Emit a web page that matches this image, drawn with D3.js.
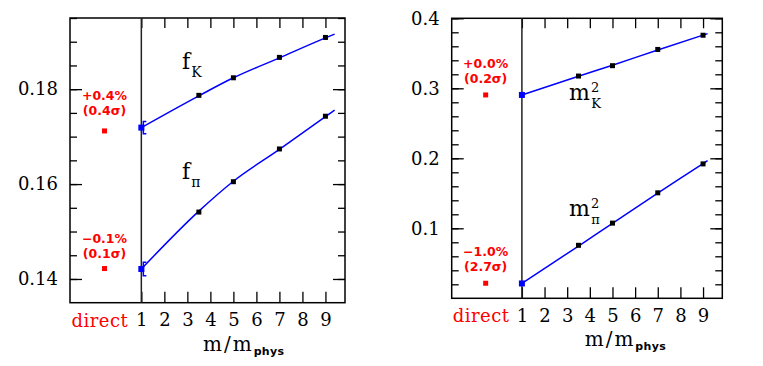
<!DOCTYPE html>
<html>
<head>
<meta charset="utf-8">
<script src="https://cdn.jsdelivr.net/npm/d3@7"></script>
<style>
  body { margin: 0; background: #fff; }
  svg { display: block; }
  .tick line { stroke: #000; stroke-width: 1.3; }
  .num { font-family: "DejaVu Serif", serif; font-size: 18px; }
  .note { font-family: "DejaVu Sans", sans-serif; font-weight: bold; font-size: 12.5px; fill: #f00; }
</style>
</head>
<body>
<div id="chart"></div>
<script>
// values
const xTicks = [1, 2, 3, 4, 5, 6, 7, 8, 9]
const massRatio = [3.5, 5, 7, 9]

// left panel: decay constants
const fK = [0.1787, 0.1824, 0.1867, 0.1909]
const fPi = [0.1541, 0.1605, 0.1674, 0.1743]
const fKPhys = 0.1719, fKErr = 0.0013
const fPiPhys = 0.1421, fPiErr = 0.0014
const fKDirect = 0.1712, fPiDirect = 0.1422
const fitX = [1, 3.5, 5, 7, 9, 9.4]
const fitFK = [0.1719, 0.1786, 0.1824, 0.1866, 0.1908, 0.1916]
const fitFPi = [0.1421, 0.1543, 0.1606, 0.1673, 0.1742, 0.1756]
const fTicksMinor = d3.range(0.14, 0.1951, 0.005)
const fTicksMajor = [0.14, 0.16, 0.18]

// right panel: squared masses
const mK2 = [0.3175, 0.3323, 0.3555, 0.3758]
const mPi2 = [0.0757, 0.1074, 0.1507, 0.1920]
const mK2Phys = 0.2905, mPi2Phys = 0.0212
const mK2Direct = 0.2905, mPi2Direct = 0.0215
const fitMX = [1, 3.5, 5, 7, 9, 9.2]
const fitMK2 = [0.2905, 0.3172, 0.3330, 0.3548, 0.3760, 0.3781]
const fitMPi2 = [0.0212, 0.0747, 0.1071, 0.1502, 0.1925, 0.1968]
const mTicksMinor = d3.range(0.02, 0.401, 0.02)
const mTicksMajor = [0.1, 0.2, 0.3, 0.4]

const directPos = -0.6, directLabelPos = -0.8

const svg = d3.select('#chart').append('svg')
  .attr('width', 763)
  .attr('height', 366)

let drawPanel = (p) => {
  const x = d3.scaleLinear().domain([-2.1, 9.85]).range([p.left, p.right])
  const y = d3.scaleLinear().domain(p.yDomain).range([p.bottom, p.top])
  const w = p.right - p.left, h = p.bottom - p.top
  const g = svg.append('g')

  // minor ticks, left and right
  g.append('g').attr('transform', `translate(${p.left},0)`)
    .call(d3.axisLeft(y).tickValues(p.minor).tickSize(-7).tickFormat(''))
  g.append('g').attr('transform', `translate(${p.right},0)`)
    .call(d3.axisRight(y).tickValues(p.minor).tickSize(-7).tickFormat(''))
  // major ticks with labels
  g.append('g').attr('transform', `translate(${p.left},0)`)
    .call(d3.axisLeft(y).tickValues(p.major).tickSize(-12).tickPadding(12).tickFormat(p.fmt))
  g.append('g').attr('transform', `translate(${p.right},0)`)
    .call(d3.axisRight(y).tickValues(p.major).tickSize(-12).tickFormat(''))
  // x ticks top and bottom
  g.append('g').attr('transform', `translate(0,${p.bottom})`)
    .call(d3.axisBottom(x).tickValues(xTicks).tickSize(-11).tickPadding(11).tickFormat(d3.format('d')))
  g.append('g').attr('transform', `translate(0,${p.top})`)
    .call(d3.axisTop(x).tickValues(xTicks).tickSize(-10).tickFormat(''))
  g.selectAll('.domain').remove()
  g.selectAll('.tick text').attr('class', 'num').attr('font-family', null).attr('font-size', null)

  // frame and the x=1 divider
  g.append('rect')
    .attr('x', p.left).attr('y', p.top).attr('width', w).attr('height', h)
    .attr('fill', 'none').attr('stroke', '#000').attr('stroke-width', 1.5)
  g.append('line')
    .attr('x1', x(1)).attr('x2', x(1)).attr('y1', p.top).attr('y2', p.bottom)
    .attr('stroke', '#222').attr('stroke-width', 1.5)

  g.append('text').attr('class', 'num')
    .attr('x', x(directLabelPos)).attr('y', p.bottom + 24)
    .attr('text-anchor', 'middle').style('fill', '#f00').style('letter-spacing', '0.5px')
    .text('direct')

  // x axis title
  const xt = g.append('text').attr('class', 'num')
    .attr('x', p.left + 133).attr('y', p.bottom + 48)
    .style('font-size', '20px').style('letter-spacing', '2px')
  xt.append('tspan').text('m/m')
  xt.append('tspan').attr('dy', 4)
    .style('font-family', '"DejaVu Sans", sans-serif').style('font-weight', 'bold')
    .style('font-size', '11px').style('letter-spacing', '0.3px')
    .text('phys')

  const line = d3.line().x(d => x(d[0])).y(d => y(d[1])).curve(d3.curveMonotoneX)

  p.series.forEach(s => {
    g.append('path')
      .datum(p.fitX.map((v, i) => [v, s.fit[i]]))
      .attr('d', line)
      .attr('fill', 'none').attr('stroke', '#0000ff').attr('stroke-width', 1.5)

    g.selectAll(null)
      .data(massRatio.map((v, i) => [v, s.vals[i]]))
      .enter().append('rect')
      .attr('x', d => x(d[0]) - 2.5).attr('y', d => y(d[1]) - 2.5)
      .attr('width', 5).attr('height', 5).attr('fill', '#000')

    // extrapolated physical point
    if (s.err) {
      const ex = x(1) + 2
      g.append('path')
        .attr('d', `M${ex + 3},${y(s.phys + s.err)}H${ex}V${y(s.phys - s.err)}H${ex + 3}`)
        .attr('fill', 'none').attr('stroke', '#0000ff').attr('stroke-width', 1.5)
    }
    g.append('rect')
      .attr('x', x(1) - 3).attr('y', y(s.phys) - 3)
      .attr('width', 6).attr('height', 6).attr('fill', '#0000ff')

    // direct point and its deviation
    g.append('rect')
      .attr('x', x(directPos) - 2.5).attr('y', y(s.direct) - 2.5)
      .attr('width', 5).attr('height', 5).attr('fill', '#f00')
    g.append('text').attr('class', 'note')
      .attr('x', x(directPos)).attr('y', y(s.direct) + s.noteDy)
      .attr('text-anchor', 'middle').text(s.pct)
    g.append('text').attr('class', 'note')
      .attr('x', x(directPos)).attr('y', y(s.direct) + s.noteDy + 15)
      .attr('text-anchor', 'middle').text(s.sig)

    // curve name
    const t = g.append('text')
      .attr('x', s.lx).attr('y', s.ly)
      .style('font-family', '"DejaVu Serif", serif').style('font-size', '22px')
    t.append('tspan').text(s.name)
    if (s.sup) {
      t.append('tspan').attr('dy', -8).attr('dx', 1).style('font-size', '13px').text(s.sup)
      t.append('tspan').attr('dy', 16).attr('dx', -8).style('font-size', '13px').text(s.sub)
    } else {
      t.append('tspan').attr('dy', 8).attr('dx', 1).style('font-size', '14px').text(s.sub)
    }
  })
}

drawPanel({
  left: 70, right: 345, top: 18, bottom: 302.7,
  yDomain: [0.135, 0.195], minor: fTicksMinor, major: fTicksMajor,
  fmt: d3.format('.2f'), fitX: fitX,
  series: [
    { vals: fK, fit: fitFK, phys: fKPhys, err: fKErr, direct: fKDirect,
      pct: '+0.4%', sig: '(0.4\u03c3)', noteDy: -31, name: 'f', sub: 'K', lx: 182, ly: 69 },
    { vals: fPi, fit: fitFPi, phys: fPiPhys, err: fPiErr, direct: fPiDirect,
      pct: '\u22120.1%', sig: '(0.1\u03c3)', noteDy: -26, name: 'f', sub: '\u03c0', lx: 182, ly: 179 }
  ]
})

drawPanel({
  left: 451.7, right: 722.3, top: 18.3, bottom: 298.3,
  yDomain: [0, 0.4], minor: mTicksMinor, major: mTicksMajor,
  fmt: d3.format('.1f'), fitX: fitMX,
  series: [
    { vals: mK2, fit: fitMK2, phys: mK2Phys, err: 0, direct: mK2Direct,
      pct: '+0.0%', sig: '(0.2\u03c3)', noteDy: -27, name: 'm', sup: '2', sub: 'K', lx: 569, ly: 100 },
    { vals: mPi2, fit: fitMPi2, phys: mPi2Phys, err: 0, direct: mPi2Direct,
      pct: '\u22121.0%', sig: '(2.7\u03c3)', noteDy: -27, name: 'm', sup: '2', sub: '\u03c0', lx: 569, ly: 216 }
  ]
})
</script>
</body>
</html>
